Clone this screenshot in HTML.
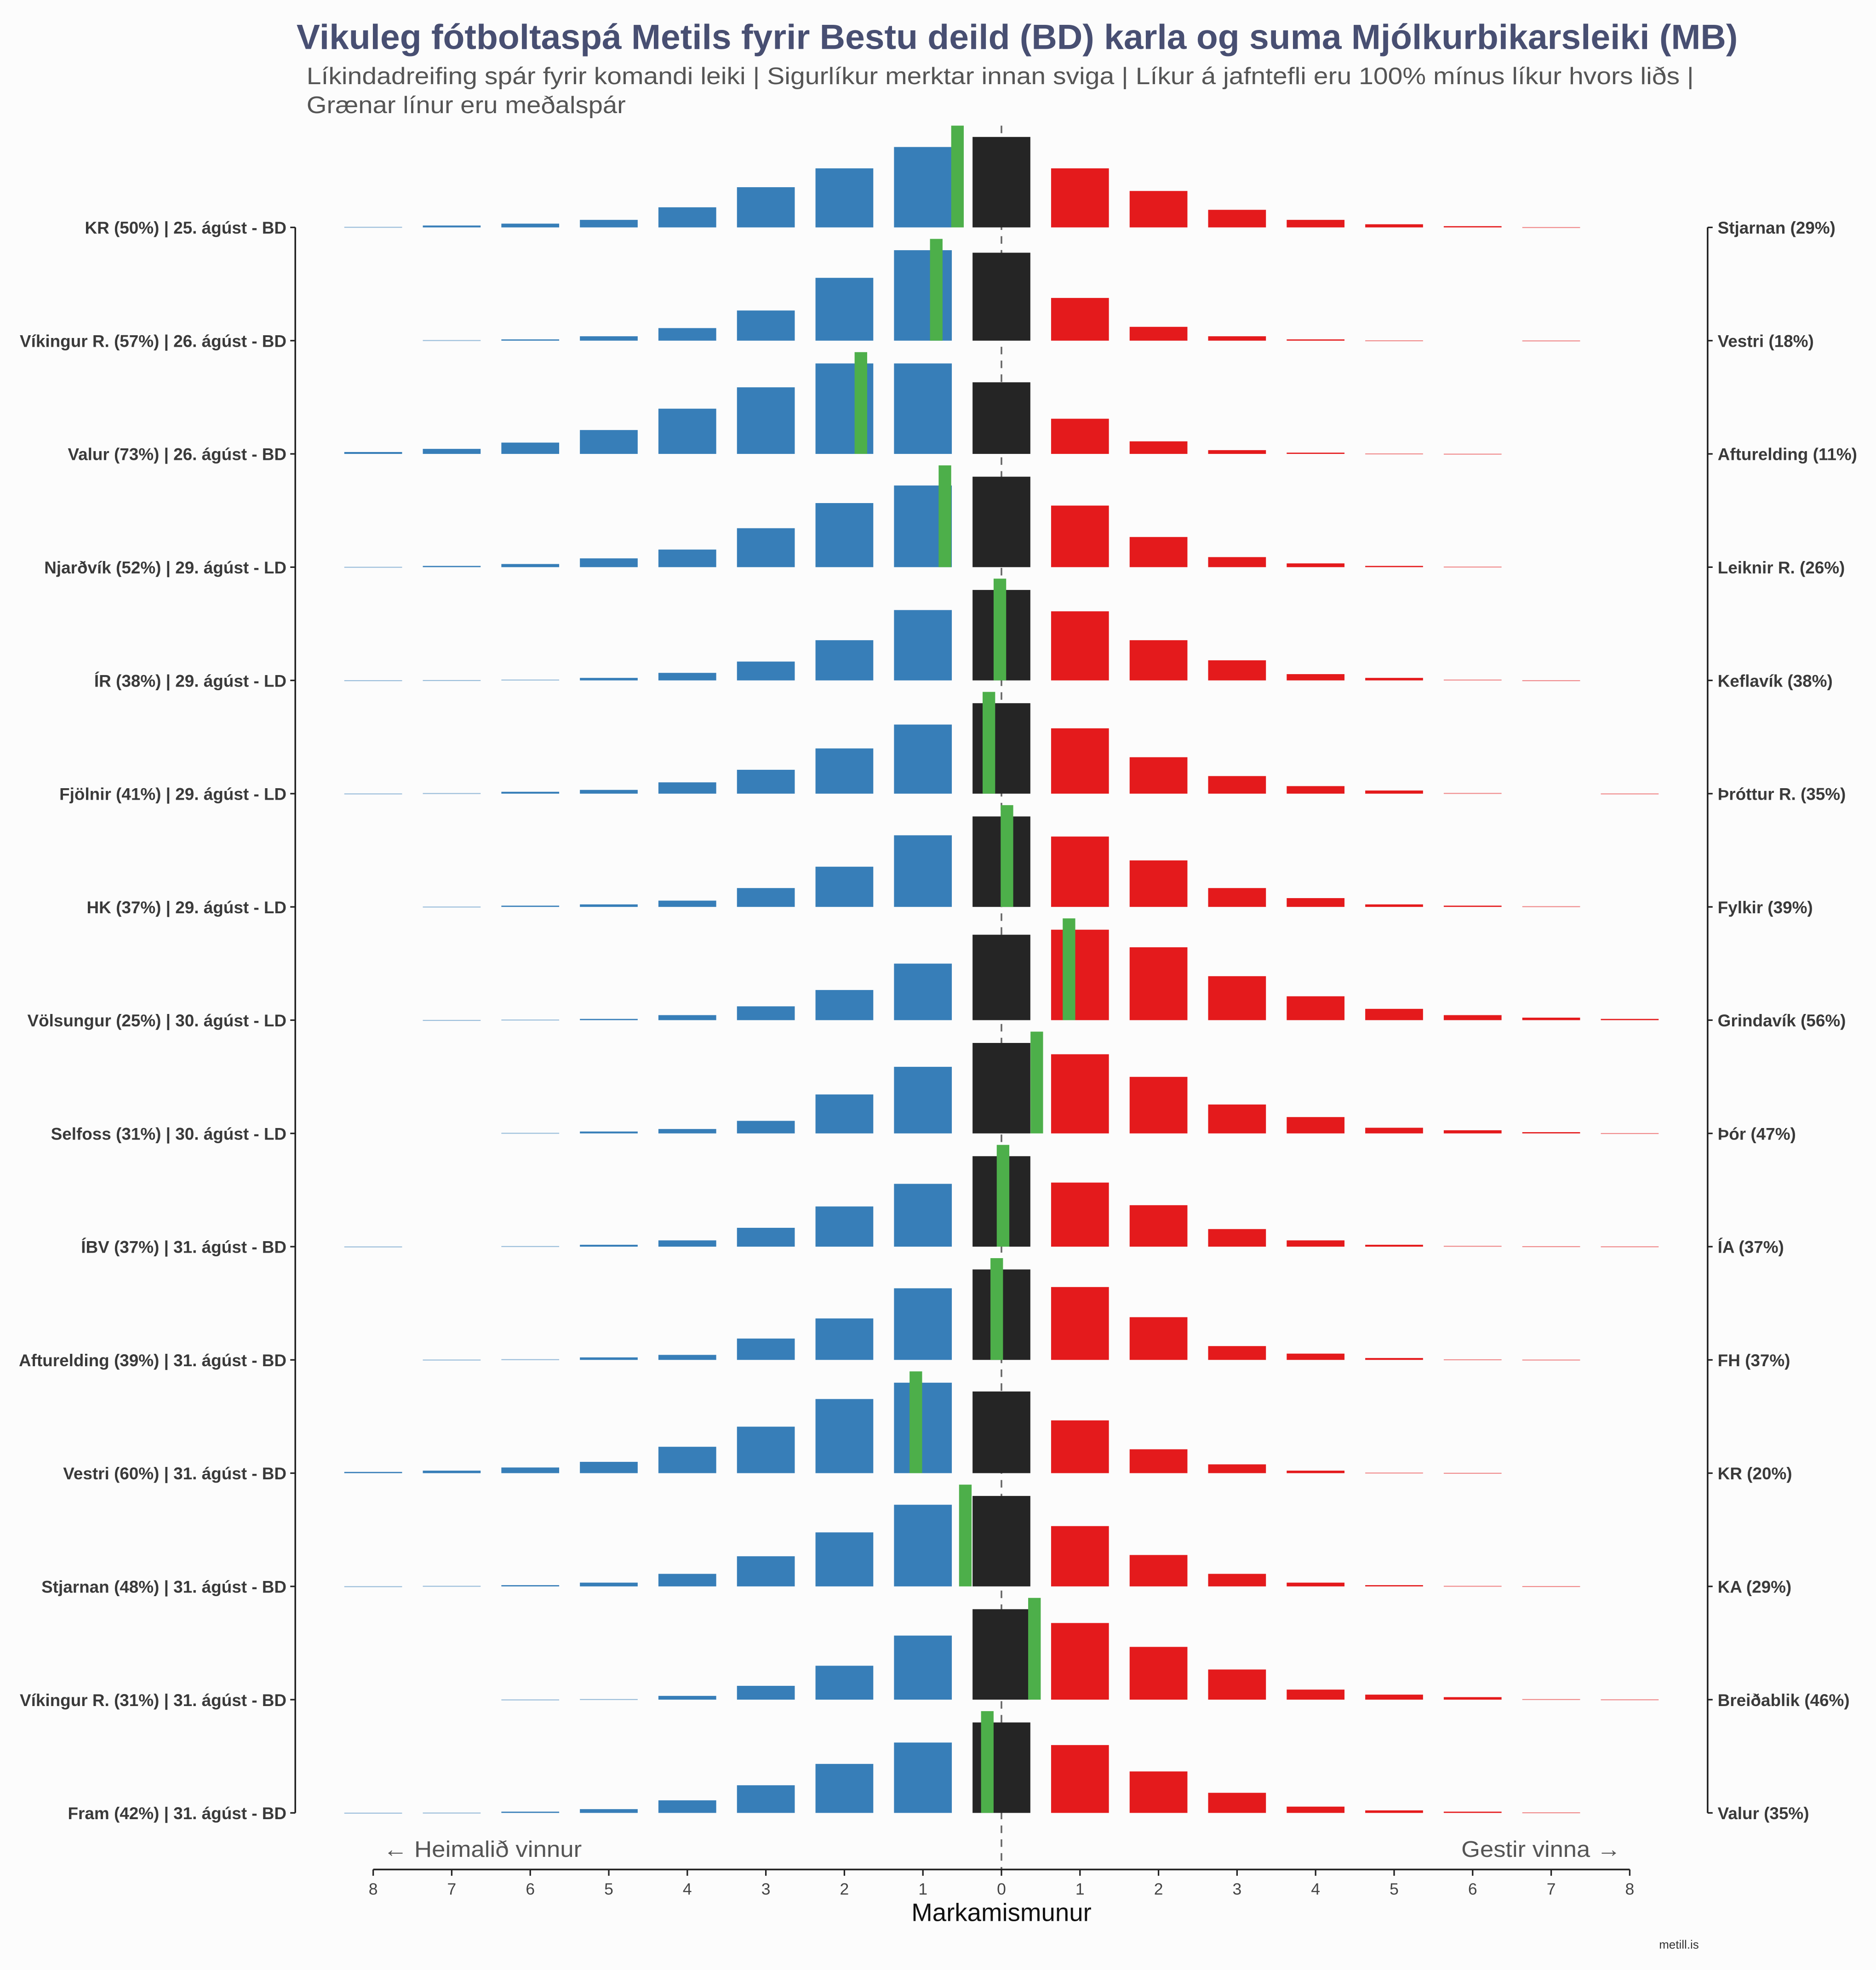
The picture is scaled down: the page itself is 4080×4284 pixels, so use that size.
<!DOCTYPE html>
<html><head><meta charset="utf-8"><style>
html,body{margin:0;padding:0;background:#fcfcfc;}
svg{display:block;}
text{font-family:"Liberation Sans",sans-serif;}
</style></head><body>
<svg id="chart" width="4080" height="4284" viewBox="0 0 1493 1568" preserveAspectRatio="none" xmlns="http://www.w3.org/2000/svg">
<rect x="0" y="0" width="1493" height="1568" fill="#fcfcfc"/>
<text x="236" y="39" textLength="1147" lengthAdjust="spacingAndGlyphs" font-size="28" font-weight="bold" fill="#484f72">Vikuleg fótboltaspá Metils fyrir Bestu deild (BD) karla og suma Mjólkurbikarsleiki (MB)</text>
<text x="244" y="67" textLength="1104" lengthAdjust="spacingAndGlyphs" font-size="19" fill="#555">Líkindadreifing spár fyrir komandi leiki | Sigurlíkur merktar innan sviga | Líkur á jafntefli eru 100% mínus líkur hvors liðs |</text>
<text x="244" y="90" textLength="254" lengthAdjust="spacingAndGlyphs" font-size="19" fill="#555">Grænar línur eru meðalspár</text>
<g id="bars"></g>
<g id="axes"></g>
<text x="305" y="1478" textLength="158" lengthAdjust="spacingAndGlyphs" font-size="18" fill="#555">← Heimalið vinnur</text>
<text x="1163" y="1478" textLength="127" lengthAdjust="spacingAndGlyphs" font-size="18" fill="#555">Gestir vinna →</text>
<text x="797" y="1529" font-size="20" fill="#111" text-anchor="middle">Markamismunur</text>
<text x="1352" y="1551" font-size="9.5" fill="#333" text-anchor="end">metill.is</text>
</svg>
<script>
const homeLabels = ["KR (50%) | 25. ágúst - BD","Víkingur R. (57%) | 26. ágúst - BD","Valur (73%) | 26. ágúst - BD","Njarðvík (52%) | 29. ágúst - LD","ÍR (38%) | 29. ágúst - LD","Fjölnir (41%) | 29. ágúst - LD","HK (37%) | 29. ágúst - LD","Völsungur (25%) | 30. ágúst - LD","Selfoss (31%) | 30. ágúst - LD","ÍBV (37%) | 31. ágúst - BD","Afturelding (39%) | 31. ágúst - BD","Vestri (60%) | 31. ágúst - BD","Stjarnan (48%) | 31. ágúst - BD","Víkingur R. (31%) | 31. ágúst - BD","Fram (42%) | 31. ágúst - BD"];
const awayLabels = ["Stjarnan (29%)","Vestri (18%)","Afturelding (11%)","Leiknir R. (26%)","Keflavík (38%)","Þróttur R. (35%)","Fylkir (39%)","Grindavík (56%)","Þór (47%)","ÍA (37%)","FH (37%)","KR (20%)","KA (29%)","Breiðablik (46%)","Valur (35%)"];
// goal differences -8..8 (negative = home win)
const goalDiffs = [-8,-7,-6,-5,-4,-3,-2,-1,0,1,2,3,4,5,6,7,8];
const tickLabels = ["8","7","6","5","4","3","2","1","0","1","2","3","4","5","6","7","8"];
// relative probability per goal difference, per match
const probs = [
 [0.5,1.5,3,6,16,32,47,64,72,47,29,14,6,2.5,1,0.3,0],
 [0,0.5,1,3.5,10,24,50,72,70,34,11,3.5,1,0.3,0,0.2,0],
 [1.5,4,9,19,36,53,72,72,57,28,10,3,1,0.4,0.2,0,0],
 [0.3,1,2.5,7,14,31,51,65,72,49,24,8,3,1,0.5,0,0],
 [0.2,0.3,0.7,2,6,15,32,56,72,55,32,16,5,2,0.7,0.2,0],
 [0.2,0.5,1.5,3,9,19,36,55,72,52,29,14,6,2.5,0.6,0,0.2],
 [0,0.3,1,2,5,15,32,57,72,56,37,15,7,2,1,0.6,0],
 [0,0.2,0.5,1,4,11,24,45,68,72,58,35,19,9,4,2,1],
 [0,0,0.5,1.5,3.5,10,31,53,72,63,45,23,13,4.5,2.5,1,0.3],
 [0.2,0,0.5,1.5,5,15,32,50,72,51,33,14,5,1.5,0.7,0.4,0.3],
 [0,0.3,0.6,2,4,17,33,57,72,58,34,11,5,1.5,0.5,0.3,0],
 [1,2,4.5,9,21,37,59,72,65,42,19,7,2,0.5,0.3,0,0],
 [0.2,0.5,1,3,10,24,43,65,72,48,25,10,3,1,0.5,0.3,0],
 [0,0,0.2,0.5,3,11,27,51,72,61,42,24,8,4,2,0.5,0.3],
 [0.2,0.3,1,3,10,22,39,56,72,54,33,16,5,2,1,0.5,0]
];
const meanDiff = [-0.56,-0.83,-1.79,-0.72,-0.02,-0.16,0.07,0.86,0.45,0.02,-0.06,-1.09,-0.46,0.42,-0.18];

const NS="http://www.w3.org/2000/svg";
const X0=797, XS=62.5, Y0=181, YS=90.14, HMAX=72, BW=46;
const xPos = d => X0 + d*XS;
const yBase = i => Y0 + i*YS;
function mk(tag, attrs, parent){const e=document.createElementNS(NS,tag);for(const k in attrs)e.setAttribute(k,attrs[k]);parent.appendChild(e);return e;}
const gb=document.getElementById('bars'), ga=document.getElementById('axes');

const zl=mk('line',{x1:X0,x2:X0,y1:100,y2:1488,stroke:'#666','stroke-width':1.3,'stroke-dasharray':'6,5'},gb);



probs.forEach((row,i)=>{
  const base=yBase(i);
  const mx=Math.max(...row);
  row.forEach((v,j)=>{
    if(v<=0) return;
    const d=goalDiffs[j];
    const h=v/mx*HMAX;
    const col=d<0?'#377eb8':(d>0?'#e41a1c':'#252525');
    const r=mk('rect',{x:xPos(d)-BW/2,y:base-h,width:BW,height:Math.max(h,0.8),fill:col,opacity:h<1?0.5:1},gb);
    
    
  });
  const g=mk('rect',{x:xPos(meanDiff[i])-5,y:base-81,width:10,height:81,fill:'#4daf4a'},gb);
  
  
  const lt=mk('text',{x:228,y:base+5,'text-anchor':'end','font-size':13.5,'font-weight':'bold',fill:'#3a3a3a'},ga);
  lt.textContent=homeLabels[i];
  
  
  const tl=mk('line',{x1:231,x2:235,y1:base,y2:base,stroke:'#222','stroke-width':1.2},ga);
  
  
  const rt=mk('text',{x:1367,y:base+5,'font-size':13.5,'font-weight':'bold',fill:'#3a3a3a'},ga);
  rt.textContent=awayLabels[i];
  
  
  const tr=mk('line',{x1:1359,x2:1363,y1:base,y2:base,stroke:'#222','stroke-width':1.2},ga);
  
  
});
const la=mk('line',{x1:235,x2:235,y1:yBase(0),y2:yBase(probs.length-1),stroke:'#222','stroke-width':1.3},ga);


const ra=mk('line',{x1:1359,x2:1359,y1:yBase(0),y2:yBase(probs.length-1),stroke:'#222','stroke-width':1.3},ga);


const xa=mk('line',{x1:xPos(-8),x2:xPos(8),y1:1488,y2:1488,stroke:'#222','stroke-width':1.3},ga);


goalDiffs.forEach((d,j)=>{
  const t=mk('line',{x1:xPos(d),x2:xPos(d),y1:1488,y2:1493,stroke:'#222','stroke-width':1.2},ga);
  
  
  const tx=mk('text',{x:xPos(d),y:1508,'text-anchor':'middle','font-size':13,fill:'#444'},ga);
  tx.textContent=tickLabels[j];
  
  
});
</script>
</body></html>
